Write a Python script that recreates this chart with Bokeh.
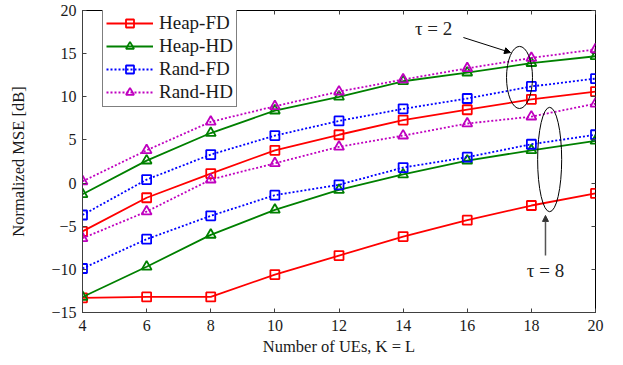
from bokeh.plotting import figure
from bokeh.models import (LinearAxis, Legend, LegendItem, Label, Arrow, NormalHead,
                          FixedTicker, CustomJSTickFormatter, Range1d)
from bokeh.embed import file_html
from bokeh.resources import INLINE

# ---------------- data ----------------
K = [4, 6, 8, 10, 12, 14, 16, 18, 20]

heap_fd_t2 = [-5.6, -1.7, 1.1, 3.8, 5.6, 7.3, 8.5, 9.7, 10.6]
heap_fd_t8 = [-13.3, -13.2, -13.2, -10.6, -8.4, -6.2, -4.3, -2.6, -1.2]
heap_hd_t2 = [-1.3, 2.6, 5.8, 8.4, 10.0, 11.8, 12.8, 13.9, 14.7]
heap_hd_t8 = [-13.2, -9.7, -6.0, -3.1, -0.8, 1.0, 2.6, 3.8, 4.9]
rand_fd_t2 = [-3.7, 0.4, 3.3, 5.5, 7.2, 8.6, 9.8, 11.2, 12.1]
rand_fd_t8 = [-9.9, -6.5, -3.8, -1.4, -0.2, 1.8, 3.0, 4.5, 5.6]
rand_hd_t2 = [0.2, 3.8, 7.1, 8.9, 10.6, 12.0, 13.3, 14.5, 15.5]
rand_hd_t8 = [-6.4, -3.3, 0.4, 2.3, 4.2, 5.5, 6.9, 7.7, 9.2]

x_ticks = [4, 6, 8, 10, 12, 14, 16, 18, 20]
y_ticks = [-15, -10, -5, 0, 5, 10, 15, 20]

series_names = ["Heap-FD", "Heap-HD", "Rand-FD", "Rand-HD"]

FONT = "Liberation Serif"
TXT = "#1a1a1a"
AX = "#404040"

p = figure(frame_width=513, frame_height=302,
           x_range=Range1d(4, 20), y_range=Range1d(-15, 20),
           output_backend="svg", toolbar_location=None,
           min_border_left=82, min_border_right=26,
           min_border_top=10, min_border_bottom=50,
           x_axis_label="Number of UEs, K = L",
           y_axis_label="Normalized MSE [dB]")

p.grid.visible = False
p.outline_line_color = "black"
p.outline_line_width = 1
p.background_fill_color = "white"
p.border_fill_color = "white"

fmt = CustomJSTickFormatter(code="return tick.toString().replace('-', '\u2212');")
blank = CustomJSTickFormatter(code="return '';")

for ax, ticks in ((p.xaxis[0], x_ticks), (p.yaxis[0], y_ticks)):
    ax.ticker = FixedTicker(ticks=ticks)
    ax.formatter = fmt
    ax.major_tick_in = 4
    ax.major_tick_out = 0
    ax.minor_tick_line_color = None
    ax.major_label_text_font = FONT
    ax.major_label_text_font_size = "16px"
    ax.major_label_text_color = TXT
    ax.axis_label_text_font = FONT
    ax.axis_label_text_font_size = "16.5px"
    ax.axis_label_text_font_style = "normal"
    ax.axis_label_text_color = TXT
    ax.axis_line_color = AX
    ax.major_tick_line_color = AX
p.xaxis[0].major_label_standoff = 7
p.xaxis[0].axis_label_standoff = 3
p.yaxis[0].major_label_standoff = 6
p.yaxis[0].axis_label_standoff = 20

# mirrored ticks on top and right
for loc, ticks in (("above", x_ticks), ("right", y_ticks)):
    a = LinearAxis(ticker=FixedTicker(ticks=ticks), formatter=blank,
                   major_label_text_font_size="1px",
                   major_tick_in=4, major_tick_out=0, major_label_standoff=0,
                   minor_tick_line_color=None, axis_line_color=None,
                   major_tick_line_color=AX)
    p.add_layout(a, loc)

styles = {
    "Heap-FD": dict(color="#ff0000", dash="solid", marker="square", size=9),
    "Heap-HD": dict(color="#008000", dash="solid", marker="triangle", size=10),
    "Rand-FD": dict(color="#0000ff", dash="2 2", marker="square", size=9),
    "Rand-HD": dict(color="#bf00bf", dash="2 2", marker="triangle", size=10),
}
data = {
    "Heap-FD": (heap_fd_t2, heap_fd_t8),
    "Heap-HD": (heap_hd_t2, heap_hd_t8),
    "Rand-FD": (rand_fd_t2, rand_fd_t8),
    "Rand-HD": (rand_hd_t2, rand_hd_t8),
}

items = []
for name in series_names:
    st = styles[name]
    first = None
    for ys in data[name]:
        l = p.line(K, ys, line_color=st["color"], line_width=1.8, line_dash=st["dash"])
        s = p.scatter(K, ys, marker=st["marker"], size=st["size"], line_color=st["color"],
                      fill_alpha=0, line_width=1.8)
        if first is None:
            first = (l, s)
    items.append(LegendItem(label=name, renderers=[first[0], first[1]]))

legend = Legend(items=items, orientation="vertical",
                label_text_font=FONT, label_text_font_size="19px", label_text_color=TXT,
                glyph_width=47, glyph_height=20, label_height=20,
                spacing=1, padding=3, margin=0, label_standoff=6,
                border_line_color="black", border_line_width=1,
                background_fill_alpha=1)
legend.location = (20, 302 - 8 - 89)
p.add_layout(legend, "center")

# annotations: tau groups
p.ellipse(x=[17.63], y=[12.24], width=[0.81], height=[7.2], fill_alpha=0,
          line_color="black", line_width=1)
p.ellipse(x=[18.57], y=[2.73], width=[0.75], height=[12.1], fill_alpha=0,
          line_color="black", line_width=1)

p.add_layout(Label(x=14.95, y=17.9, text="τ = 2", text_font=FONT, text_font_size="19px",
                   text_align="center", text_baseline="middle", text_color="#222222"))
p.add_layout(Label(x=18.44, y=-10.15, text="τ = 8", text_font=FONT, text_font_size="19px",
                   text_align="center", text_baseline="middle", text_color="#222222"))

p.add_layout(Arrow(end=NormalHead(size=6, fill_color="black", line_color="black"),
                   x_start=15.88, y_start=16.87, x_end=17.35, y_end=15.13,
                   line_color="black", line_width=1))
p.add_layout(Arrow(end=NormalHead(size=6, fill_color="#333333", line_color="#333333"),
                   x_start=18.44, y_start=-8.4, x_end=18.44, y_end=-3.75,
                   line_color="#555555", line_width=1.5))

with open("out.html", "w") as f:
    f.write(file_html(p, INLINE))
